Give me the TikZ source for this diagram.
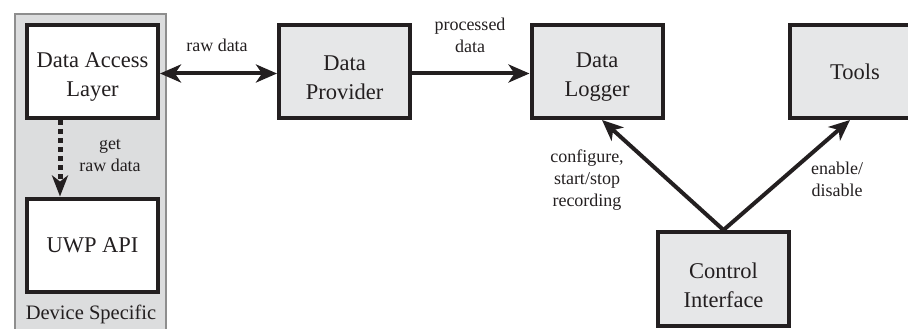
\documentclass[tikz,border=0pt]{standalone}
\usepackage{fontspec}
\setmainfont{Liberation Serif}
\usetikzlibrary{arrows.meta}

\definecolor{boxgray}{HTML}{E6E7E8}
\definecolor{groupgray}{HTML}{DCDDDE}
\definecolor{groupline}{HTML}{8E8E8E}
\definecolor{ink}{HTML}{231F20}

\begin{document}
\begin{tikzpicture}[x=1pt,y=-1pt,
  block/.style={draw=ink, line width=4pt, fill=boxgray, minimum width=131pt,
    minimum height=93pt, align=center, inner sep=0pt, text=ink,
    font=\fontsize{22.5}{29}\selectfont},
  blocktext/.style={align=center, inner sep=0pt, text=ink, yshift=-6pt,
    font=\fontsize{22.5}{29}\selectfont},
  note/.style={align=center, inner sep=0pt, text=ink,
    font=\fontsize{18}{22}\selectfont},
  >={Stealth[length=21pt,width=18pt,inset=6pt]}]
\useasboundingbox (0,0) rectangle (908,329);
% device specific part
\draw [draw=groupline, line width=2pt, fill=groupgray] (15,14) rectangle (166,340);
\node [note, font=\fontsize{20.5}{24}\selectfont] (dev) at (91,314) {Device Specific};
% blocks
\node [block, fill=white, label={[blocktext]center:Data Access\\Layer}] (dal) at (92.5,71.5) {};
\node [block, fill=white] (uwp) at (92.5,245) {UWP API};
\node [block, label={[blocktext]center:Data\\Provider}] (prov) at (344.5,71.5) {};
\node [block, label={[blocktext]center:Data\\Logger}] (log) at (597,71.5) {};
\node [block] (tools) at (855,71.5) {Tools};
\node [block, minimum height=94pt, label={[blocktext]center:Control\\Interface}] (ctrl) at (723.5,279) {};
% arrows
\draw [line width=4pt, draw=ink, <->] ([yshift=-2pt]dal.east) -- ([yshift=-2pt]prov.west);
\draw [line width=4pt, draw=ink, ->] ([yshift=-2pt]prov.east) -- ([yshift=-2pt]log.west);
\draw [line width=5pt, draw=ink, dash pattern=on 5pt off 4pt, -{Stealth[length=21pt,width=16pt,inset=6pt]}]
  ([xshift=-32.5pt]dal.south) -- ([xshift=-32.5pt]uwp.north);
\draw [line width=4pt, draw=ink, ->] (ctrl.north) -- ([xshift=5pt]log.south);
\draw [line width=4pt, draw=ink, ->] (ctrl.north) -- ([xshift=-5pt]tools.south);
% labels
\node [note] (raw) at (217,45) {raw data};
\node [note] (proc) at (470,35) {processed\\data};
\node [note] (get) at (110,156) {get\\raw data};
\node [note] (conf) at (587,180) {configure,\\start/stop\\recording};
\node [note] (ena) at (837,179) {enable/\\disable};
\end{tikzpicture}
\end{document}
